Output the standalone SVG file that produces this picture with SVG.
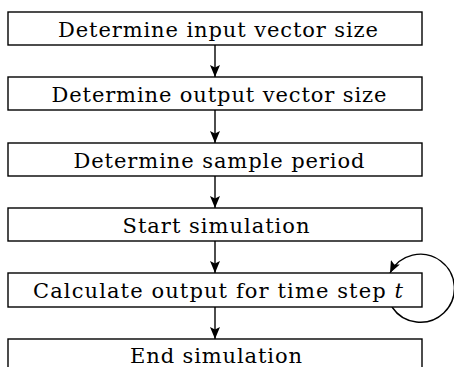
<svg xmlns="http://www.w3.org/2000/svg" width="454" height="367" viewBox="0 0 454 367">
<style>
.box{fill:#fff;stroke:#000;stroke-width:1.4}
.lbl{font-family:"DejaVu Serif","Liberation Serif",serif;font-size:21px;fill:#000;text-anchor:middle}
.edge{fill:none;stroke:#000;stroke-width:1.4}
</style>
<defs>
<marker id="ah" viewBox="0 0 12 10" refX="12" refY="5" markerWidth="12" markerHeight="10" markerUnits="userSpaceOnUse" orient="auto">
<path d="M0,0 L12,5 L0,10 L2.5,5 Z" fill="#000"/>
</marker>
</defs>
<g id="connectors">
<line class="edge" x1="215" y1="45" x2="215" y2="77" marker-end="url(#ah)"/>
<line class="edge" x1="215" y1="110" x2="215" y2="143" marker-end="url(#ah)"/>
<line class="edge" x1="215" y1="176" x2="215" y2="208" marker-end="url(#ah)"/>
<line class="edge" x1="215" y1="241" x2="215" y2="273" marker-end="url(#ah)"/>
<line class="edge" x1="215" y1="307" x2="215" y2="339" marker-end="url(#ah)"/>
<path class="edge" d="M392,307 A34,34 0 1 0 390,273" marker-end="url(#ah)"/>
</g>
<g id="n1"><rect class="box" x="8" y="12" width="414" height="33"/><text class="lbl" x="218" y="37" textLength="320">Determine input vector size</text></g>
<g id="n2"><rect class="box" x="8" y="77" width="414" height="33"/><text class="lbl" x="219" y="102" textLength="335">Determine output vector size</text></g>
<g id="n3"><rect class="box" x="8" y="143" width="414" height="33"/><text class="lbl" x="219" y="168" textLength="291">Determine sample period</text></g>
<g id="n4"><rect class="box" x="8" y="208" width="414" height="33"/><text class="lbl" x="216" y="233" textLength="187">Start simulation</text></g>
<g id="n5"><rect class="box" x="8" y="273" width="414" height="34"/><text class="lbl" x="218" y="298" textLength="370">Calculate output for time step <tspan font-style="italic">t</tspan></text></g>
<g id="n6"><rect class="box" x="8" y="339" width="414" height="40"/><text class="lbl" x="216" y="363" textLength="172">End simulation</text></g>
</svg>
